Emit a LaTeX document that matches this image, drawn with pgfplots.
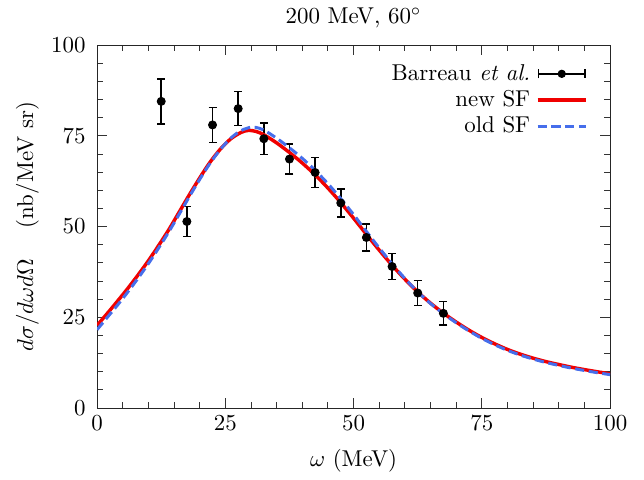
\documentclass[border=0pt]{standalone}
\usepackage{pgfplots}
\pgfplotsset{compat=1.18}
\usetikzlibrary{arrows.meta}
\definecolor{newsf}{RGB}{240,0,0}
\definecolor{oldsf}{RGB}{70,110,235}
\begin{document}
\begin{tikzpicture}
\begin{axis}[
    width=224pt,
    height=158.5pt,
    scale only axis,
    xmin=0, xmax=100,
    ymin=0, ymax=100,
    xtick={0,25,50,75,100},
    ytick={0,25,50,75,100},
    minor tick num=4,
    tick align=inside,
    major tick length=4.4pt,
    minor tick length=2.6pt,
    axis line style={black!85},
    every tick/.style={black!80},
    title={200 MeV, 60$^\circ$},
    title style={yshift=-2pt},
    xlabel={$\omega$ (MeV)},
    xlabel style={yshift=-1pt},
    yticklabel style={xshift=-1.5pt},
    ylabel={$d\sigma/d\omega d\Omega$ \quad (nb/MeV sr)},
    ylabel style={yshift=-1.5pt},
    legend style={draw=none, fill=none, at={(0.957,0.955)}, anchor=north east,
        row sep=1pt, inner sep=0pt, nodes={inner xsep=2.5pt, inner ysep=1pt}},
    legend cell align=right,
    legend plot pos=right,
]
\addplot[black, only marks, mark=*, mark size=1.75pt, forget plot,
    error bars/.cd, y dir=both, y explicit,
    error bar style={black, line width=0.65pt},
    error mark options={rotate=90, mark size=1.75pt, line width=0.65pt},
] coordinates {
    (12.5,84.5) +- (0,6.2)
    (17.5,51.4) +- (0,4.2)
    (22.5,78.0) +- (0,4.8)
    (27.5,82.5) +- (0,4.7)
    (32.5,74.2) +- (0,4.3)
    (37.5,68.6) +- (0,4.1)
    (42.5,64.9) +- (0,4.1)
    (47.5,56.5) +- (0,3.8)
    (52.5,47.0) +- (0,3.7)
    (57.5,39.0) +- (0,3.6)
    (62.5,31.7) +- (0,3.4)
    (67.5,26.1) +- (0,3.2)
};
\addlegendimage{legend image code/.code={
        \draw[black, line width=0.65pt, {Bar[width=4pt]}-{Bar[width=4pt]}] (0cm,0cm) -- (0.74cm,0cm);
        \fill[black] (0.37cm,0cm) circle (1.6pt);}}
\addlegendentry{Barreau \textit{et al.}}
\addplot[newsf, line width=1.5pt, smooth, forget plot] coordinates {
    (0,22.8) (2,26.1) (4,29.5) (6,33.0) (8,36.7) (10,40.6) (12,44.8)
    (14,49.2) (16,54.0) (18,58.8) (20,63.4) (22,67.7) (24,71.3)
    (26,74.1) (28,75.9) (29.5,76.5) (31,76.2) (32.5,75.3) (35,73.05)
    (37.5,70.4) (40,67.5) (42.5,64.25) (45,60.6) (47.5,56.6) (50,52.3)
    (52.5,47.85) (55,43.5) (57.5,39.35) (60,35.5) (62.5,32.0) (65,28.9)
    (67.5,26.15) (70,23.7) (72.5,21.45) (75,19.45) (77.5,17.7) (80,16.15)
    (82.5,14.85) (85,13.75) (87.5,12.8) (90,12.0) (92.5,11.25) (95,10.6)
    (97.5,10.0) (100,9.45)
};
\addlegendimage{legend image code/.code={
        \draw[newsf, line width=1.5pt] (0cm,0cm) -- (0.74cm,0cm);}}
\addlegendentry{new SF}
\addplot[oldsf, line width=1.3pt, dash pattern=on 4pt off 2pt, smooth, forget plot] coordinates {
    (0,21.6) (2,25.0) (4,28.4) (6,32.0) (8,35.8) (10,39.8) (12,44.1)
    (14,48.6) (16,53.4) (18,58.3) (20,63.0) (22,67.4) (24,71.2)
    (26,74.3) (28,76.4) (30,77.4) (31,77.3) (32.5,76.6) (35,74.35)
    (37.5,71.7) (40,68.8) (42.5,65.5) (45,61.8) (47.5,57.7) (50,53.3)
    (52.5,48.65) (55,44.1) (57.5,39.75) (60,35.7) (62.5,32.0) (65,28.8)
    (67.5,26.0) (70,23.5) (72.5,21.25) (75,19.2) (77.5,17.45) (80,15.9)
    (82.5,14.6) (85,13.5) (87.5,12.55) (90,11.75) (92.5,11.0) (95,10.35)
    (97.5,9.75) (100,9.2)
};
\addlegendimage{legend image code/.code={
        \draw[oldsf, line width=1.3pt, dash pattern=on 4pt off 2pt] (0cm,0cm) -- (0.74cm,0cm);}}
\addlegendentry{old SF}
\end{axis}
\path (current axis.south east) +(14.8pt,0);
\path (current axis.south west) +(-42.4pt,-29.7pt);
\path (current axis.north west) +(0,18.8pt);
\end{tikzpicture}
\end{document}
